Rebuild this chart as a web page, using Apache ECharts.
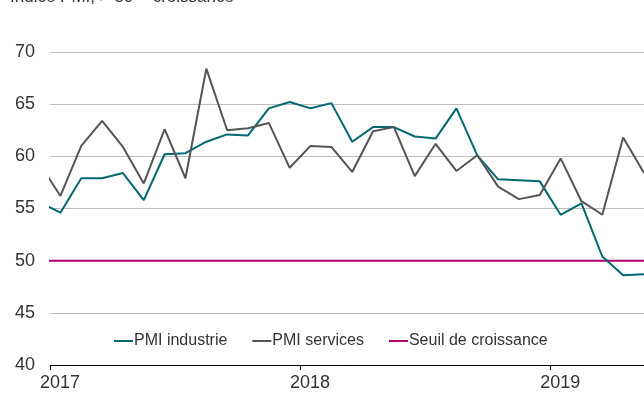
<!DOCTYPE html>
<html>
<head>
<meta charset="utf-8">
<script src="https://cdn.jsdelivr.net/npm/echarts@6/dist/echarts.min.js"></script>
<style>
  html, body { margin: 0; padding: 0; background: #fff; }
  #chart { width: 644px; height: 394px; }
</style>
</head>
<body>
<div id="chart"></div>
<script>
// Monthly readings, December 2016 to May 2019 (one value per month)
const months = ['2016-12',
  '2017-01','2017-02','2017-03','2017-04','2017-05','2017-06','2017-07','2017-08','2017-09','2017-10','2017-11','2017-12',
  '2018-01','2018-02','2018-03','2018-04','2018-05','2018-06','2018-07','2018-08','2018-09','2018-10','2018-11','2018-12',
  '2019-01','2019-02','2019-03','2019-04','2019-05'];

const pmiIndustrie = [55.6,
  54.6, 57.9, 57.9, 58.4, 55.8, 60.2, 60.3, 61.4, 62.1, 62.0, 64.6, 65.2,
  64.6, 65.1, 61.4, 62.8, 62.8, 61.9, 61.7, 64.6, 60.1, 57.8, 57.7, 57.6,
  54.4, 55.5, 50.4, 48.6, 48.7];

const pmiServices = [59.3,
  56.2, 61.0, 63.4, 60.9, 57.4, 62.6, 57.9, 68.4, 62.5, 62.7, 63.2, 58.9,
  61.0, 60.9, 58.5, 62.4, 62.8, 58.1, 61.2, 58.6, 60.1, 57.1, 55.9, 56.3,
  59.8, 55.7, 54.4, 61.8, 58.4];

const seuil = 50;
const yearLabels = ['2017', '2018', '2019'];
const seriesNames = ['PMI industrie', 'PMI services', 'Seuil de croissance'];

// x position in months since January 2017; each reading sits mid-month
function monthPos(m) {
  const [y, mo] = m.split('-').map(Number);
  return (y - 2017) * 12 + (mo - 1) + 0.5;
}
const pairs = vals => months.map((m, i) => [monthPos(m), vals[i]]);
const seuilData = months.map(m => [monthPos(m), seuil]);

const FONT = '"Liberation Sans", Arial, sans-serif';
const chart = echarts.init(document.getElementById('chart'), null, { renderer: 'canvas' });

chart.setOption({
  animation: false,
  backgroundColor: '#ffffff',
  grid: { left: 50, right: 0, top: 52, bottom: 29, containLabel: false, outerBoundsMode: 'none' },
  graphic: [{
    type: 'text', left: 10, top: -11,
    style: { text: 'Indice PMI, > 50 = croissance', font: '17px ' + FONT, fill: '#333' }
  }],
  legend: {
    data: seriesNames,
    left: 109, top: 326,
    icon: 'rect', itemWidth: 19, itemHeight: 2, itemGap: 25,
    textStyle: { fontFamily: FONT, fontSize: 16, color: '#333', lineHeight: 20, padding: [0, 0, 0, -4] }
  },
  xAxis: {
    type: 'value', min: 0, max: 28.5, interval: 12,
    axisLine: { lineStyle: { color: '#000', width: 1 } },
    axisTick: { show: true, length: 5, lineStyle: { color: '#000' } },
    splitLine: { show: false },
    axisLabel: {
      fontFamily: FONT, fontSize: 18, color: '#333', margin: 9,
      padding: [0, 0, 0, 20], showMaxLabel: false,
      formatter: v => (v % 12 === 0 ? yearLabels[v / 12] : '')
    }
  },
  yAxis: {
    type: 'value', min: 40, max: 70, interval: 5,
    axisLine: { show: false }, axisTick: { show: false },
    splitLine: { lineStyle: { color: '#bdbdbd', width: 1 } },
    axisLabel: { fontFamily: FONT, fontSize: 18, color: '#333', margin: 15 }
  },
  series: [
    {
      name: seriesNames[2], type: 'line', data: seuilData, showSymbol: false, z: 1,
      lineStyle: { color: '#b0006c', width: 2 }, itemStyle: { color: '#b0006c' }
    },
    {
      name: seriesNames[0], type: 'line', data: pairs(pmiIndustrie), showSymbol: false, z: 2,
      lineStyle: { color: '#006870', width: 2 }, itemStyle: { color: '#006870' }
    },
    {
      name: seriesNames[1], type: 'line', data: pairs(pmiServices), showSymbol: false, z: 3,
      lineStyle: { color: '#555555', width: 2 }, itemStyle: { color: '#555555' }
    }
  ]
});
</script>
</body>
</html>
